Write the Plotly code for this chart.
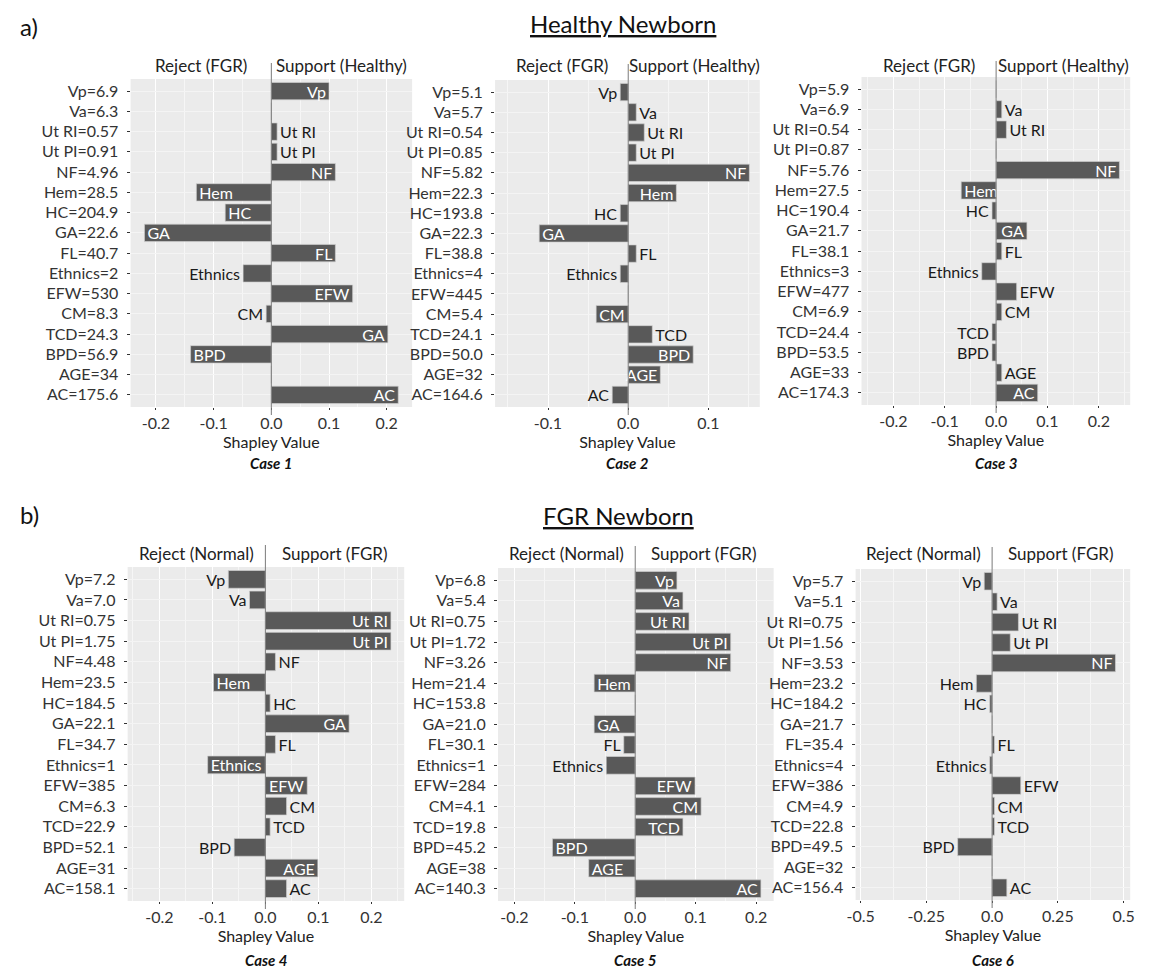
import plotly.graph_objects as go

# ---------------- data ----------------
features = ["Vp", "Va", "Ut RI", "Ut PI", "NF", "Hem", "HC", "GA", "FL",
            "Ethnics", "EFW", "CM", "TCD", "BPD", "AGE", "AC"]

case1_inputs = ["6.9", "6.3", "0.57", "0.91", "4.96", "28.5", "204.9", "22.6", "40.7",
                "2", "530", "8.3", "24.3", "56.9", "34", "175.6"]
case1_shap = [0.100, 0, 0.010, 0.010, 0.111, -0.130, -0.080, -0.220, 0.111,
              -0.049, 0.141, -0.009, 0.202, -0.140, 0, 0.220]
case1_labels = ["Vp", "Va", "Ut RI", "Ut PI", "NF", "Hem", "HC", "GA", "FL",
                "Ethnics", "EFW", "CM", "GA", "BPD", "AGE", "AC"]

case2_inputs = ["5.1", "5.7", "0.54", "0.85", "5.82", "22.3", "193.8", "22.3", "38.8",
                "4", "445", "5.4", "24.1", "50.0", "32", "164.6"]
case2_shap = [-0.010, 0.010, 0.020, 0.010, 0.151, 0.060, -0.010, -0.111, 0.010,
              -0.010, 0, -0.040, 0.030, 0.081, 0.040, -0.020]

case3_inputs = ["5.9", "6.9", "0.54", "0.87", "5.76", "27.5", "190.4", "21.7", "38.1",
                "3", "477", "6.9", "24.4", "53.5", "33", "174.3"]
case3_shap = [0, 0.011, 0.020, 0, 0.240, -0.068, -0.008, 0.060, 0.011,
              -0.028, 0.040, 0.011, -0.008, -0.008, 0.011, 0.081]

case4_inputs = ["7.2", "7.0", "0.75", "1.75", "4.48", "23.5", "184.5", "22.1", "34.7",
                "1", "385", "6.3", "22.9", "52.1", "31", "158.1"]
case4_shap = [-0.070, -0.030, 0.237, 0.237, 0.019, -0.098, 0.009, 0.158, 0.019,
              -0.109, 0.079, 0.040, 0.009, -0.059, 0.099, 0.040]

case5_inputs = ["6.8", "5.4", "0.75", "1.72", "3.26", "21.4", "153.8", "21.0", "30.1",
                "1", "284", "4.1", "19.8", "45.2", "38", "140.3"]
case5_shap = [0.069, 0.079, 0.089, 0.158, 0.158, -0.068, 0, -0.068, -0.019,
              -0.048, 0.099, 0.109, 0.079, -0.137, -0.077, 0.208]

case6_inputs = ["5.7", "5.1", "0.75", "1.56", "3.53", "23.2", "184.2", "21.7", "35.4",
                "4", "386", "4.9", "22.8", "49.5", "32", "156.4"]
case6_shap = [-0.030, 0.019, 0.100, 0.069, 0.469, -0.060, -0.009, 0, 0.009,
              -0.009, 0.109, 0.009, 0.009, -0.131, 0, 0.056]

ticks_a = [-0.2, -0.1, 0.0, 0.1, 0.2]
ticks_a_text = ["-0.2", "-0.1", "0.0", "0.1", "0.2"]
ticks_b = [-0.1, 0.0, 0.1]
ticks_b_text = ["-0.1", "0.0", "0.1"]
ticks_c = [-0.5, -0.25, 0.0, 0.25, 0.5]
ticks_c_text = ["-0.5", "-0.25", "0.0", "0.25", "0.5"]

case_titles = ["Case 1", "Case 2", "Case 3", "Case 4", "Case 5", "Case 6"]
headers_healthy = ("Reject (FGR)", "Support (Healthy)")
headers_fgr = ("Reject (Normal)", "Support (FGR)")

# ---------------- label placement (style) ----------------
inside_1 = {"Vp", "NF", "Hem", "HC", "GA", "FL", "EFW", "TCD", "BPD", "AC"}
inside_2 = {"NF", "Hem", "GA", "CM", "BPD", "AGE"}
inside_3 = {"NF", "Hem", "GA", "AC"}
inside_4 = {"Ut RI", "Ut PI", "Hem", "GA", "Ethnics", "EFW", "AGE"}
inside_5 = {"Vp", "Va", "Ut RI", "Ut PI", "NF", "Hem", "GA", "EFW", "CM", "TCD", "BPD", "AGE", "AC"}
inside_6 = {"NF"}

W, H = 1151, 969          # target screenshot
OFF = 8                   # default page body margin
FW, FH = W - OFF, H - OFF  # figure size


def px_x(p):
    return (p - OFF) / FW


def px_y(p):
    return 1 - (p - OFF) / FH


FONT = "Lato, 'Open Sans', sans-serif"
BAR = "#595959"
TXT = "#333333"
TICK_SIZE = 16
BAR_TEXT_SIZE = 16

panels = [
    dict(inputs=case1_inputs, shap=case1_shap, labels=case1_labels, inside=inside_1,
         px=(123, 408), py=(79, 407), rng=(-0.244, 0.244), tv=ticks_a, tt=ticks_a_text,
         minor=0.05, hdr=headers_healthy),
    dict(inputs=case2_inputs, shap=case2_shap, labels=features, inside=inside_2,
         px=(492, 760), py=(80, 407), rng=(-0.166, 0.164), tv=ticks_b, tt=ticks_b_text,
         minor=0.05, hdr=headers_healthy),
    dict(inputs=case3_inputs, shap=case3_shap, labels=features, inside=inside_3,
         px=(863, 1135), py=(77, 405), rng=(-0.262, 0.261), tv=ticks_a, tt=ticks_a_text,
         minor=0.05, hdr=headers_healthy),
    dict(inputs=case4_inputs, shap=case4_shap, labels=features, inside=inside_4,
         px=(120, 400), py=(567, 901), rng=(-0.26, 0.262), tv=ticks_a, tt=ticks_a_text,
         minor=0.05, hdr=headers_fgr),
    dict(inputs=case5_inputs, shap=case5_shap, labels=features, inside=inside_5,
         px=(495, 774), py=(568, 901), rng=(-0.227, 0.229), tv=ticks_a, tt=ticks_a_text,
         minor=0.05, hdr=headers_fgr),
    dict(inputs=case6_inputs, shap=case6_shap, labels=features, inside=inside_6,
         px=(857, 1135), py=(569, 900), rng=(-0.519, 0.525), tv=ticks_c, tt=ticks_c_text,
         minor=0.125, hdr=headers_fgr),
]

fig = go.Figure()
annotations = []
shapes = []

for i, p in enumerate(panels):
    k = "" if i == 0 else str(i + 1)
    cats = [f"{f}={v}" for f, v in zip(features, p["inputs"])]
    texts = [lab if val != 0 else "" for lab, val in zip(p["labels"], p["shap"])]
    tpos = ["inside" if (f in p["inside"]) else "outside" for f in features]
    fig.add_trace(go.Bar(
        x=p["shap"], y=cats, orientation="h", width=0.86,
        marker=dict(color=BAR, line=dict(color="#d0d0d0", width=0.7)),
        text=texts, textposition=tpos, insidetextanchor="end", textangle=0,
        insidetextfont=dict(color="white", size=BAR_TEXT_SIZE, family=FONT),
        outsidetextfont=dict(color="#1a1a1a", size=BAR_TEXT_SIZE, family=FONT),
        constraintext="none", cliponaxis=False, showlegend=False,
        hoverinfo="x+y",
        xaxis="x" + k, yaxis="y" + k,
    ))
    x0, x1 = px_x(p["px"][0]), px_x(p["px"][1])
    y0, y1 = px_y(p["py"][1]), px_y(p["py"][0])
    fig.layout["xaxis" + k] = dict(
        domain=[x0, x1], anchor="y" + k, range=list(p["rng"]),
        tickvals=p["tv"], ticktext=p["tt"], showgrid=True, gridcolor="white", gridwidth=1.1,
        minor=dict(dtick=p["minor"], tick0=0, showgrid=True, gridcolor="#f6f6f6", gridwidth=0.6),
        zeroline=False, ticks="outside", ticklen=2, tickcolor=TXT,
        tickfont=dict(size=TICK_SIZE, color=TXT, family=FONT),
        title=dict(text="Shapley Value", font=dict(size=16, color="#222", family=FONT), standoff=2),
        fixedrange=True,
    )
    fig.layout["yaxis" + k] = dict(
        domain=[y0, y1], anchor="x" + k, type="category",
        categoryorder="array", categoryarray=cats, range=[15.6, -0.6],
        showgrid=True, gridcolor="#f4f4f4", gridwidth=0.6, zeroline=False,
        ticks="outside", ticklen=3, tickcolor=TXT, ticklabelstandoff=5,
        tickfont=dict(size=TICK_SIZE, color=TXT, family=FONT), fixedrange=True,
    )
    # zero line extending above and slightly below the panel
    top_px = p["py"][0] - (16 if i < 3 else 22)
    shapes.append(dict(type="line", xref="x" + k, yref="paper", x0=0, x1=0,
                       y0=px_y(p["py"][1] + 8), y1=px_y(top_px),
                       line=dict(color="#7a7a7a", width=1), layer="above"))
    # headers
    hy = px_y(66 if i < 3 else 553)
    annotations.append(dict(text=p["hdr"][0], x=p["rng"][0] / 2, xref="x" + k, y=hy, yref="paper",
                            showarrow=False, xanchor="center", yanchor="middle",
                            font=dict(size=17, color="#222", family=FONT)))
    annotations.append(dict(text=p["hdr"][1], x=p["rng"][1] / 2, xref="x" + k, y=hy, yref="paper",
                            showarrow=False, xanchor="center", yanchor="middle",
                            font=dict(size=17, color="#222", family=FONT)))
    # case label
    cy = px_y(463 if i < 3 else 960)
    annotations.append(dict(text=f"<b><i>{case_titles[i]}</i></b>", x=0.5, xref="x" + k + " domain",
                            y=cy, yref="paper", showarrow=False, xanchor="center", yanchor="middle",
                            font=dict(size=15, color="#111", family=FONT)))

# section titles
annotations += [
    dict(text="<u>Healthy Newborn</u>", x=px_x(622), y=px_y(23), xref="paper", yref="paper",
         showarrow=False, xanchor="center", yanchor="middle",
         font=dict(size=24, color="#111", family=FONT)),
    dict(text="<u>FGR Newborn</u>", x=px_x(617), y=px_y(515), xref="paper", yref="paper",
         showarrow=False, xanchor="center", yanchor="middle",
         font=dict(size=24, color="#111", family=FONT)),
    dict(text="a)", x=px_x(9), y=px_y(27), xref="paper", yref="paper",
         showarrow=False, xanchor="left", yanchor="middle",
         font=dict(size=24, color="#111", family=FONT)),
    dict(text="b)", x=px_x(9), y=px_y(514), xref="paper", yref="paper",
         showarrow=False, xanchor="left", yanchor="middle",
         font=dict(size=24, color="#111", family=FONT)),
]

fig.update_layout(
    width=FW, height=FH, margin=dict(l=0, r=0, t=0, b=0),
    paper_bgcolor="white", plot_bgcolor="#EBEBEB",
    annotations=annotations, shapes=shapes, bargap=0.14,
    font=dict(family=FONT),
)

fig.write_html("out.html")
